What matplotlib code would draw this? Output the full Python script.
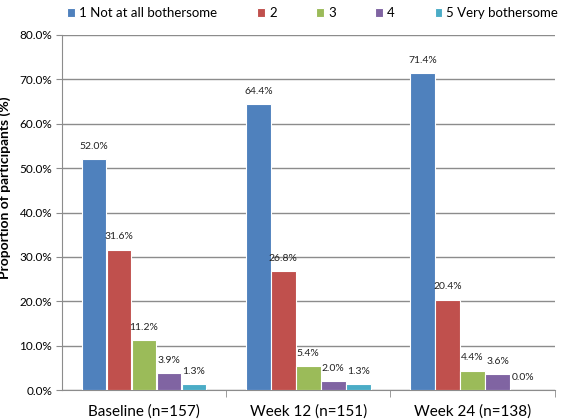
import numpy as np
import matplotlib.pyplot as plt

plt.rcParams['font.family'] = ['Lato', 'DejaVu Sans']

groups = ['Baseline (n=157)', 'Week 12 (n=151)', 'Week 24 (n=138)']
series = ['1 Not at all bothersome', '2', '3', '4', '5 Very bothersome']
values = [
    [52.0, 64.4, 71.4],
    [31.6, 26.8, 20.4],
    [11.2, 5.4, 4.4],
    [3.9, 2.0, 3.6],
    [1.3, 1.3, 0.0],
]
colors = ['#4F81BD', '#C0504D', '#9BBB59', '#8064A2', '#4BACC6']

fig = plt.figure(figsize=(5.72, 4.2), dpi=100)
ax = fig.add_axes([0.108, 0.071, 0.862, 0.846])

x = np.arange(len(groups))
step = 0.152
width = 0.15
for i, (name, vals, c) in enumerate(zip(series, values, colors)):
    pos = x + (i - 2) * step
    ax.bar(pos, vals, width=width, color=c, edgecolor='white',
           linewidth=0.8, label=name, zorder=3)
    for p, v in zip(pos, vals):
        ax.annotate(f'{v:.1f}%', (p, v), xytext=(0, 6), textcoords='offset points',
                    ha='center', va='bottom', fontsize=7.5, color='#222222')

ax.set_xlim(-0.5, 2.5)
ax.set_ylim(0, 80)
ax.set_yticks(np.arange(0, 81, 10))
ax.set_yticklabels([f'{t:.1f}%' for t in np.arange(0, 81, 10)], fontsize=8.5)
ax.yaxis.grid(True, color='#8c8c8c', linewidth=1.0, zorder=0)
ax.set_axisbelow(True)

ax.set_xticks(x)
ax.set_xticklabels(groups, fontsize=11)
ax.tick_params(axis='x', length=0, pad=10)
ax.set_xticks([0.5, 1.5, 2.5], minor=True)
ax.tick_params(axis='x', which='minor', length=5, color='#8c8c8c')
ax.tick_params(axis='y', length=4, color='#8c8c8c', pad=3)

for s in ['top', 'right']:
    ax.spines[s].set_visible(False)
for s in ['left', 'bottom']:
    ax.spines[s].set_color('#8c8c8c')

ax.set_ylabel('Proportion of participants (%)', fontsize=10, fontweight='bold')
ax.yaxis.set_label_coords(-0.102, 0.57)

fig.legend(loc='center left', bbox_to_anchor=(0.118, 0.969), ncol=5, frameon=False,
           fontsize=9.5, handlelength=0.6, handleheight=0.6, handletextpad=0.3,
           columnspacing=3.0, borderpad=0, borderaxespad=0)

fig.savefig('out.png', dpi=100)
